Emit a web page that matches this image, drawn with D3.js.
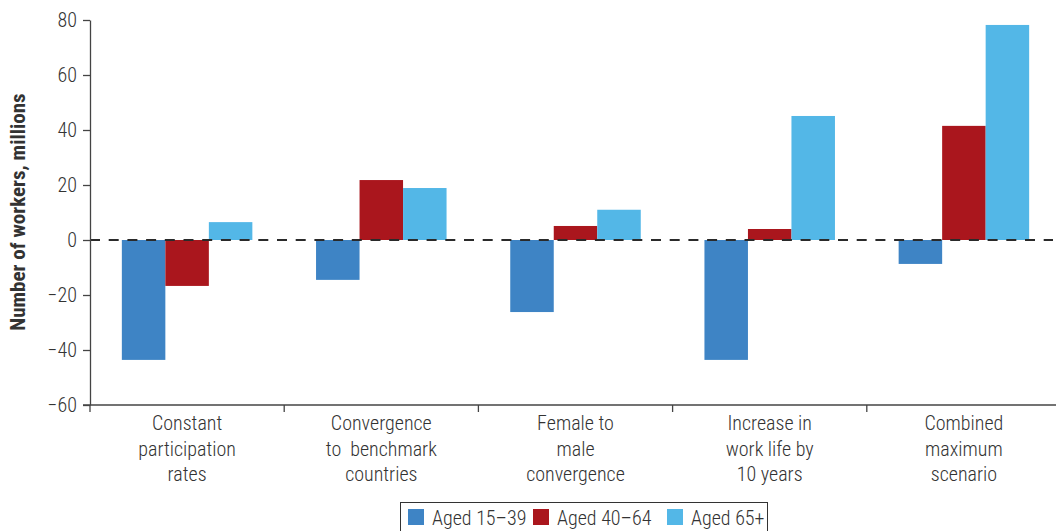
<!DOCTYPE html>
<html>
<head>
<meta charset="utf-8">
<script src="https://cdn.jsdelivr.net/npm/d3@7"></script>
<style>
  html, body { margin: 0; padding: 0; background: #fff; }
  svg { display: block; }
  text { font-family: "Liberation Sans Narrow", "Roboto Condensed", "Arial Narrow", sans-serif; fill: #333; }
</style>
</head>
<body>
<svg id="chart" width="1056" height="531"></svg>
<script>
const categories = [
  ["Constant", "participation", "rates"],
  ["Convergence", "to  benchmark", "countries"],
  ["Female to", "male", "convergence"],
  ["Increase in", "work life by", "10 years"],
  ["Combined", "maximum", "scenario"]
];
const seriesNames = ["Aged 15–39", "Aged 40–64", "Aged 65+"];
const aged15to39 = [-43.6, -14.5, -26.2, -43.6, -8.7];
const aged40to64 = [-16.7, 21.8, 5.1, 4.0, 41.5];
const aged65plus = [6.5, 18.9, 11.0, 45.1, 78.2];
const yTicks = [-60, -40, -20, 0, 20, 40, 60, 80];
const colors = ["#3E84C5", "#AA161D", "#53B7E7"];

const seriesValues = [aged15to39, aged40to64, aged65plus];
const svg = d3.select("#chart");
const catKeys = categories.map((c, i) => "c" + i);

const x = d3.scaleBand().domain(catKeys).range([90, 1061]).paddingInner(0).paddingOuter(0);
const xs = d3.scaleBand().domain(seriesNames).range([0, x.bandwidth()]).paddingInner(0).paddingOuter(0.732);
const y = d3.scaleLinear().domain([-60, 80]).range([405, 20]);

// bars
seriesNames.forEach((s, si) => {
  svg.append("g").selectAll("rect")
    .data(seriesValues[si])
    .join("rect")
    .attr("x", (d, i) => x(catKeys[i]) + xs(s))
    .attr("width", xs.bandwidth())
    .attr("y", d => y(Math.max(0, d)))
    .attr("height", d => Math.abs(y(d) - y(0)))
    .attr("fill", colors[si]);
});

// zero dashed line
svg.append("line")
  .attr("x1", x.range()[0]).attr("x2", 1053)
  .attr("y1", y(0)).attr("y2", y(0))
  .attr("stroke", "#2a2a2a").attr("stroke-width", 2)
  .attr("stroke-dasharray", "10,8.7");

// y axis
const yAxis = svg.append("g")
  .attr("transform", `translate(${x.range()[0]},0)`)
  .call(d3.axisLeft(y).tickValues(yTicks).tickSize(7).tickSizeOuter(0).tickPadding(6));
yAxis.select(".domain").attr("stroke", "#444").attr("stroke-width", 1.3);
yAxis.selectAll(".tick line").attr("stroke", "#444").attr("stroke-width", 1.3);
yAxis.selectAll(".tick text").attr("font-size", 20).attr("fill", "#3a3a3a").attr("font-weight", 300)
  .attr("font-family", "'Liberation Sans Narrow', 'Roboto Condensed', sans-serif");

// x axis
const xAxis = svg.append("g")
  .attr("transform", `translate(0,${y(-60)})`)
  .call(d3.axisBottom(x).tickSize(0).tickFormat(""));
xAxis.select(".domain").attr("stroke", "#444").attr("stroke-width", 1.3)
  .attr("d", `M83,0H${x.range()[1]}`);
const boundaries = catKeys.map(k => x(k));
xAxis.selectAll(".bnd").data(boundaries).join("line")
  .attr("class", "bnd")
  .attr("x1", d => d).attr("x2", d => d)
  .attr("y1", 0).attr("y2", 7)
  .attr("stroke", "#444").attr("stroke-width", 1.3);

const labels = svg.append("g");
categories.forEach((lines, i) => {
  const t = labels.append("text")
    .attr("text-anchor", "middle")
    .attr("font-size", 20)
    .attr("font-weight", 300)
    .attr("fill", "#3a3a3a")
    .style("white-space", "pre")
    .attr("transform", `translate(${x(catKeys[i]) + x.bandwidth() / 2},430)`);
  lines.forEach((ln, j) => {
    t.append("tspan").attr("x", 0).attr("y", j * 25.5).text(ln);
  });
});

// y title
svg.append("text")
  .attr("transform", "translate(25,212) rotate(-90)")
  .attr("text-anchor", "middle")
  .attr("font-size", 21)
  .attr("font-weight", "bold")
  .attr("fill", "#222")
  .text("Number of workers, millions");

// legend
const lg = svg.append("g");
lg.append("rect").attr("x", 400.5).attr("y", 502.5).attr("width", 367).attr("height", 40)
  .attr("fill", "#fff").attr("stroke", "#333").attr("stroke-width", 1);
const legX = [408, 533, 667];
seriesNames.forEach((s, i) => {
  lg.append("rect").attr("x", legX[i]).attr("y", 509).attr("width", 16).attr("height", 16).attr("fill", colors[i]);
  lg.append("text").attr("x", legX[i] + 24).attr("y", 525).attr("font-size", 20).attr("font-weight", 300)
    .attr("fill", "#3a3a3a").text(s);
});
</script>
</body>
</html>
